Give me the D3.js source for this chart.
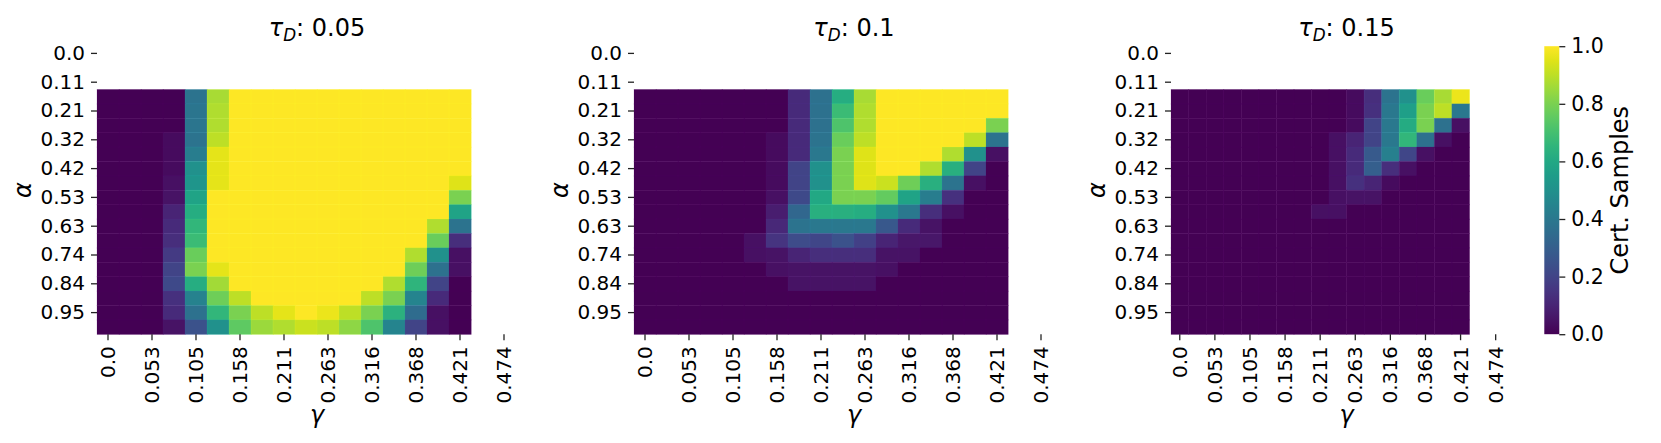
<!DOCTYPE html>
<html>
<head>
<meta charset="utf-8">
<script src="https://cdn.jsdelivr.net/npm/d3@7"></script>
<style>
  html, body { margin: 0; padding: 0; background: #fff; }
  svg { display: block; font-family: "DejaVu Sans", sans-serif; }
</style>
</head>
<body>
<svg id="chart" width="1661" height="443"></svg>
<script>
// ---------- data ----------
const tauLabels = ["0.05", "0.1", "0.15"];
const alphaTickLabels = ["0.0", "0.11", "0.21", "0.32", "0.42", "0.53", "0.63", "0.74", "0.84", "0.95"];
const gammaTickLabels = ["0.0", "0.053", "0.105", "0.158", "0.211", "0.263", "0.316", "0.368", "0.421", "0.474"];
const colorbarTicks = [0, 0.2, 0.4, 0.6, 0.8, 1.0];
const gridSize = 20;          // full alpha x gamma grid
const firstAlphaRow = 3;      // rows 0-2 are empty (NaN)
// visible values: rows = alpha index 3..19, cols = gamma index 0..16
const certTau005 = [
  [0,0,0,0,.38,.87,1,1,1,1,1,1,1,1,1,1,1],
  [0,0,0,0,.39,.88,1,1,1,1,1,1,1,1,1,1,1],
  [0,0,0,0,.39,.88,1,1,1,1,1,1,1,1,1,1,1],
  [0,0,0,.03,.38,.9,1,1,1,1,1,1,1,1,1,1,1],
  [0,0,0,.03,.42,.96,1,1,1,1,1,1,1,1,1,1,1],
  [0,0,0,.03,.5,.96,1,1,1,1,1,1,1,1,1,1,1],
  [0,0,0,.04,.52,.96,1,1,1,1,1,1,1,1,1,1,.95],
  [0,0,0,.05,.58,1,1,1,1,1,1,1,1,1,1,1,.8],
  [0,0,0,.1,.62,1,1,1,1,1,1,1,1,1,1,1,.58],
  [0,0,0,.12,.66,1,1,1,1,1,1,1,1,1,1,.88,.38],
  [0,0,0,.13,.68,1,1,1,1,1,1,1,1,1,1,.77,.13],
  [0,0,0,.17,.77,1,1,1,1,1,1,1,1,1,.88,.5,.04],
  [0,0,0,.2,.8,.96,1,1,1,1,1,1,1,1,.78,.37,.04],
  [0,0,0,.22,.62,.86,1,1,1,1,1,1,1,.88,.65,.2,0],
  [0,0,0,.14,.44,.78,.9,1,1,1,1,1,.9,.8,.45,.12,0],
  [0,0,0,.12,.37,.66,.8,.9,.96,1,.97,.9,.8,.64,.35,.04,0],
  [0,0,0,.05,.25,.5,.75,.85,.88,.92,.9,.83,.72,.45,.2,.04,0]
];
const certTau010 = [
  [0,0,0,0,0,0,0,.12,.37,.62,.87,1,1,1,1,1,1],
  [0,0,0,0,0,0,0,.12,.37,.68,.88,1,1,1,1,1,1],
  [0,0,0,0,0,0,0,.12,.37,.72,.88,1,1,1,1,1,.8],
  [0,0,0,0,0,0,.03,.12,.38,.77,.9,1,1,1,1,.9,.38],
  [0,0,0,0,0,0,.03,.12,.4,.8,.95,1,1,1,.88,.5,.04],
  [0,0,0,0,0,0,.03,.2,.5,.8,.95,1,1,.88,.63,.2,0],
  [0,0,0,0,0,0,.03,.2,.5,.8,.95,.92,.78,.63,.38,.04,0],
  [0,0,0,0,0,0,.04,.22,.6,.8,.8,.76,.58,.42,.14,0,0],
  [0,0,0,0,0,0,.08,.33,.63,.63,.62,.5,.4,.13,.04,0,0],
  [0,0,0,0,0,0,.11,.38,.4,.4,.4,.27,.12,.05,0,0,0],
  [0,0,0,0,0,.04,.15,.23,.21,.25,.19,.1,.06,.06,0,0,0],
  [0,0,0,0,0,.04,.05,.1,.13,.13,.13,.05,.05,0,0,0,0],
  [0,0,0,0,0,0,.04,.05,.05,.05,.05,.04,0,0,0,0,0],
  [0,0,0,0,0,0,0,.05,.05,.05,.05,0,0,0,0,0,0],
  [0,0,0,0,0,0,0,0,0,0,0,0,0,0,0,0,0],
  [0,0,0,0,0,0,0,0,0,0,0,0,0,0,0,0,0],
  [0,0,0,0,0,0,0,0,0,0,0,0,0,0,0,0,0]
];
const certTau015 = [
  [0,0,0,0,0,0,0,0,0,0,.03,.13,.38,.5,.77,.87,.97],
  [0,0,0,0,0,0,0,0,0,0,.03,.14,.4,.56,.8,.9,.4],
  [0,0,0,0,0,0,0,0,0,0,.03,.2,.4,.61,.8,.37,.04],
  [0,0,0,0,0,0,0,0,0,.04,.1,.2,.4,.66,.37,.04,0],
  [0,0,0,0,0,0,0,0,0,.04,.12,.28,.43,.21,.04,0,0],
  [0,0,0,0,0,0,0,0,0,.04,.12,.3,.13,.04,0,0,0],
  [0,0,0,0,0,0,0,0,0,.04,.14,.1,.03,0,0,0,0],
  [0,0,0,0,0,0,0,0,0,.04,.05,.05,0,0,0,0,0],
  [0,0,0,0,0,0,0,0,.04,.04,0,0,0,0,0,0,0],
  [0,0,0,0,0,0,0,0,0,0,0,0,0,0,0,0,0],
  [0,0,0,0,0,0,0,0,0,0,0,0,0,0,0,0,0],
  [0,0,0,0,0,0,0,0,0,0,0,0,0,0,0,0,0],
  [0,0,0,0,0,0,0,0,0,0,0,0,0,0,0,0,0],
  [0,0,0,0,0,0,0,0,0,0,0,0,0,0,0,0,0],
  [0,0,0,0,0,0,0,0,0,0,0,0,0,0,0,0,0],
  [0,0,0,0,0,0,0,0,0,0,0,0,0,0,0,0,0],
  [0,0,0,0,0,0,0,0,0,0,0,0,0,0,0,0,0]
];
const panelsData = [certTau005, certTau010, certTau015];

// ---------- layout ----------
const svg = d3.select("#chart");
const axesTop = 46.2, axesBottom = 334.2;
const panelLeft = [97, 634, 1171];
const panelWidth = [440, 440, 351];
const tickFont = 20, labelFont = 24, cbarTickFont = 20.5;

const color = d3.scaleSequential(d3.interpolateViridis).domain([0, 1]);
const tickIdx = d3.range(0, gridSize, 2);

panelsData.forEach((grid, p) => {
  const x = d3.scaleBand().domain(d3.range(gridSize)).range([panelLeft[p], panelLeft[p] + panelWidth[p]]).padding(0);
  const y = d3.scaleBand().domain(d3.range(gridSize)).range([axesTop, axesBottom]).padding(0);
  const g = svg.append("g");

  const cells = [];
  grid.forEach((row, r) => row.forEach((v, c) => cells.push({ a: r + firstAlphaRow, gm: c, v })));
  g.selectAll("rect.cell").data(cells).enter().append("rect")
    .attr("class", "cell")
    .attr("x", d => x(d.gm))
    .attr("y", d => y(d.a))
    .attr("width", x.bandwidth() + 0.3)
    .attr("height", y.bandwidth() + 0.3)
    .attr("fill", d => color(d.v))
    .attr("stroke", d => d3.color(color(d.v)).brighter(0.7))
    .attr("stroke-opacity", 0.25)
    .attr("stroke-width", 0.7);

  // y axis
  const ya = g.append("g").attr("transform", `translate(${panelLeft[p]},0)`)
    .call(d3.axisLeft(y).tickValues(tickIdx).tickFormat(i => alphaTickLabels[i / 2]).tickSize(6).tickPadding(6));
  ya.select(".domain").remove();
  ya.selectAll(".tick line").attr("stroke", "#222").attr("stroke-width", 1.3);
  ya.selectAll(".tick text").attr("font-size", tickFont).attr("fill", "#000").attr("font-family", "DejaVu Sans");

  // x axis
  const xa = g.append("g").attr("transform", `translate(0,${axesBottom})`)
    .call(d3.axisBottom(x).tickValues(tickIdx).tickFormat(i => gammaTickLabels[i / 2]).tickSize(6).tickPadding(6));
  xa.select(".domain").remove();
  xa.selectAll(".tick line").attr("stroke", "#222").attr("stroke-width", 1.3);
  xa.selectAll(".tick text")
    .attr("font-size", tickFont).attr("fill", "#000").attr("font-family", "DejaVu Sans")
    .attr("transform", "rotate(-90)")
    .attr("text-anchor", "end")
    .attr("x", -12).attr("y", 0).attr("dy", "0.35em");

  const cx = panelLeft[p] + panelWidth[p] / 2;
  const cy = (axesTop + axesBottom) / 2;

  // title
  const t = g.append("text").attr("x", cx).attr("y", 36).attr("text-anchor", "middle")
    .attr("font-size", labelFont).attr("fill", "#000");
  t.append("tspan").attr("font-style", "italic").text("τ");
  t.append("tspan").attr("font-style", "italic").attr("font-size", labelFont * 0.7).attr("dy", 5).text("D");
  t.append("tspan").attr("dy", -5).text(": " + tauLabels[p]);

  // axis labels
  g.append("text").attr("transform", `translate(${panelLeft[p] - 66},${cy}) rotate(-90)`)
    .attr("text-anchor", "middle").attr("font-size", labelFont).attr("font-style", "italic").text("α");
  g.append("text").attr("x", cx).attr("y", 423)
    .attr("text-anchor", "middle").attr("font-size", labelFont).attr("font-style", "italic").text("γ");
});

// ---------- colorbar ----------
const cbX = 1544.3, cbW = 15;
const defs = svg.append("defs");
const grad = defs.append("linearGradient").attr("id", "vir").attr("x1", 0).attr("y1", 1).attr("x2", 0).attr("y2", 0);
d3.range(0, 1.0001, 0.05).forEach(s => grad.append("stop").attr("offset", s).attr("stop-color", d3.interpolateViridis(s)));
svg.append("rect").attr("x", cbX).attr("y", axesTop).attr("width", cbW).attr("height", axesBottom - axesTop).attr("fill", "url(#vir)");
const cScale = d3.scaleLinear().domain([0, 1]).range([axesBottom, axesTop]);
const ca = svg.append("g").attr("transform", `translate(${cbX + cbW},0)`)
  .call(d3.axisRight(cScale).tickValues(colorbarTicks).tickFormat(d3.format(".1f")).tickSize(6).tickPadding(6));
ca.select(".domain").remove();
ca.selectAll(".tick line").attr("stroke", "#222").attr("stroke-width", 1.3);
ca.selectAll(".tick text").attr("font-size", cbarTickFont).attr("fill", "#000").attr("font-family", "DejaVu Sans");
svg.append("text").attr("transform", `translate(1628,${(axesTop + axesBottom) / 2}) rotate(-90)`)
  .attr("text-anchor", "middle").attr("font-size", labelFont).text("Cert. Samples");
</script>
</body>
</html>
